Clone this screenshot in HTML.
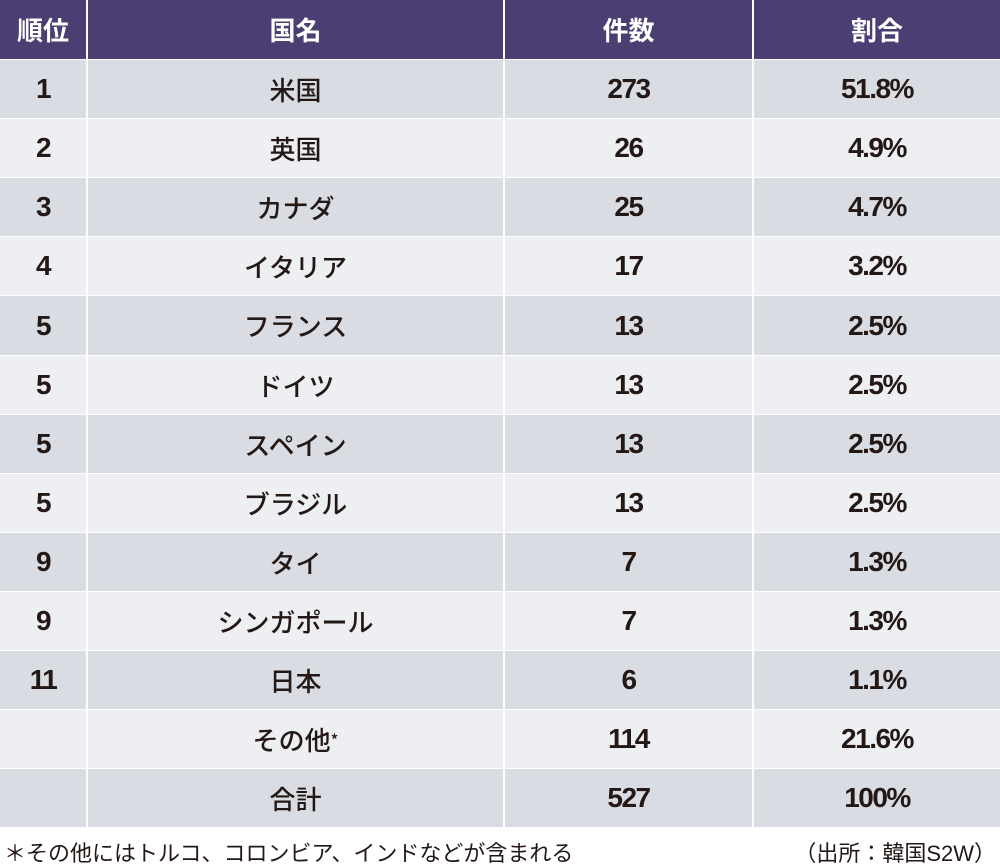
<!DOCTYPE html>
<html><head><meta charset="utf-8"><style>
body{margin:0;width:1000px;height:868px;background:#fff;position:relative;overflow:hidden;font-family:"Liberation Sans","Noto Sans CJK JP",sans-serif;}
.c{position:absolute;display:flex;align-items:center;justify-content:center;font-size:28px;font-weight:bold;color:#231815;letter-spacing:-1.5px;box-sizing:border-box;}
.h{background:#4a3e72;color:#fff;font-weight:bold;font-family:"Noto Sans CJK JP",sans-serif;font-size:26px;letter-spacing:0}
.note{position:absolute;top:836px;font-size:22px;color:#231815;font-family:"Liberation Sans","Noto Sans CJK JP",sans-serif;}
</style></head><body>
<div id="t"></div>
<div class="note" style="left:4px">＊その他にはトルコ、コロンビア、インドなどが含まれる</div>
<div class="note" style="right:4px">（出所：韓国S2W）</div>
<script>
const headers=["順位","国名","件数","割合"];
const ranks=["1","2","3","4","5","5","5","5","9","9","11","",""];
const names=["米国","英国","カナダ","イタリア","フランス","ドイツ","スペイン","ブラジル","タイ","シンガポール","日本","その他*","合計"];
const counts=["273","26","25","17","13","13","13","13","7","7","6","114","527"];
const shares=["51.8%","4.9%","4.7%","3.2%","2.5%","2.5%","2.5%","2.5%","1.3%","1.3%","1.1%","21.6%","100%"];
const colX=[0,88,505,754],colW=[86,415,247,246];
const t=document.getElementById('t');
function cell(x,y,w,h,txt,cls,bg,name){
 const d=document.createElement('div');d.className='c '+cls;
 
 
 d.style.cssText+=`left:${x}px;top:${y}px;width:${w}px;height:${h}px;`+(bg?`background:${bg};`:'');
 d.innerHTML=txt;t.appendChild(d);}
headers.forEach((h,i)=>cell(colX[i],0,colW[i],59,h,'h',null,'header-'+i));
const rowH=59.1;
for(let r=0;r<names.length;r++){
 const y=Math.round(60+r*rowH),h=Math.round(60+(r+1)*rowH)-y-1;
 const bg=r%2==0?'#d9dce2':'#eeeff2';
 const vals=[ranks[r],names[r].replace('*','<sup style="font-size:16px">*</sup>'),counts[r],shares[r]];
 vals.forEach((v,i)=>cell(colX[i],y,colW[i],h,v,i==1?'jp':'',bg,'row-'+(r+1)+'-col-'+i));
}
</script>
<style>.jp{font-weight:500;letter-spacing:0;font-size:26px;font-family:"Noto Sans CJK JP",sans-serif;}</style>
</body></html>
